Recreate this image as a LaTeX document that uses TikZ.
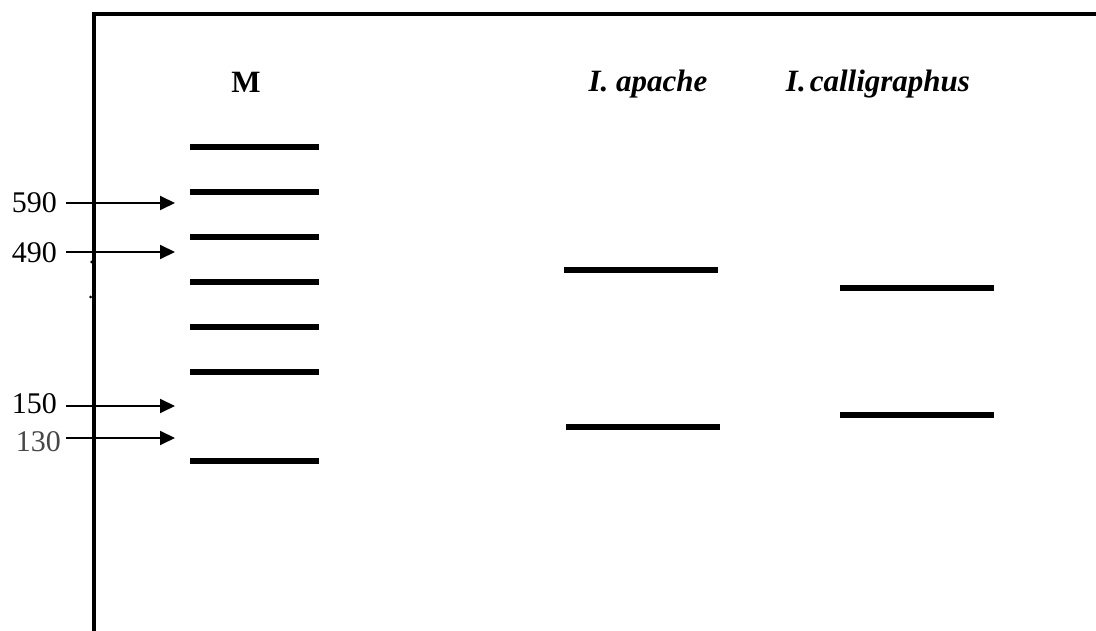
\documentclass[tikz,border=0pt]{standalone}
\usepackage{fontspec}
\setmainfont{Liberation Serif}
\usetikzlibrary{arrows.meta}
\begin{document}
\begin{tikzpicture}[x=1pt,y=-1pt,
  frame/.style={line width=4.5pt},
  band/.style={line width=6pt},
  marker/.style={line width=2pt,-{Triangle[length=15pt,width=14pt]}},
  sizelbl/.style={anchor=east,inner sep=0pt,font=\fontsize{30}{30}\selectfont},
  lanelbl/.style={inner sep=0pt,anchor=base,font=\fontsize{31}{31}\selectfont\bfseries\itshape}]
\useasboundingbox (0,0) rectangle (1096,631);
% frame
\draw[frame] (94,631) -- (94,14) -- (1096,14);
\fill (91.5,262) circle (1.5pt);
\fill (90.5,297) circle (1.5pt);
% lane labels
\node[lanelbl,font=\fontsize{31}{31}\selectfont\bfseries] (lm) at (246,93) {M};
\node[lanelbl] (la) at (648,92) {I. apache};
\node[lanelbl] (lc) at (878,92) {I.\kern4pt calligraphus};
% marker ladder
\foreach \y/\n in {147/m1,192/m2,237/m3,282/m4,327/m5,372/m6,461/m7}
  \draw[band] (190,\y) coordinate (\n l) -- (319,\y) coordinate (\n r);
% I. apache bands
\draw[band] (564,270) coordinate (a1l) -- (718,270) coordinate (a1r);
\draw[band] (566,427) coordinate (a2l) -- (720,427) coordinate (a2r);
% I. calligraphus bands
\draw[band] (840,288) coordinate (c1l) -- (994,288) coordinate (c1r);
\draw[band] (840,415) coordinate (c2l) -- (994,415) coordinate (c2r);
% size labels and arrows
\node[sizelbl] (s590) at (57,203) {590};
\node[sizelbl] (s490) at (57,253) {490};
\node[sizelbl] (s150) at (57,404) {150};
\node[sizelbl,text=black!72] (s130) at (61,442) {130};
\coordinate (t590) at (66,203); \coordinate (h590) at (175,203);
\coordinate (t490) at (66,252); \coordinate (h490) at (175,252);
\coordinate (t150) at (66,406); \coordinate (h150) at (175,406);
\coordinate (t130) at (66,438); \coordinate (h130) at (175,438);
\draw[marker] (t590) -- (h590);
\draw[marker] (t490) -- (h490);
\draw[marker] (t150) -- (h150);
\draw[marker] (t130) -- (h130);
\end{tikzpicture}
\end{document}
